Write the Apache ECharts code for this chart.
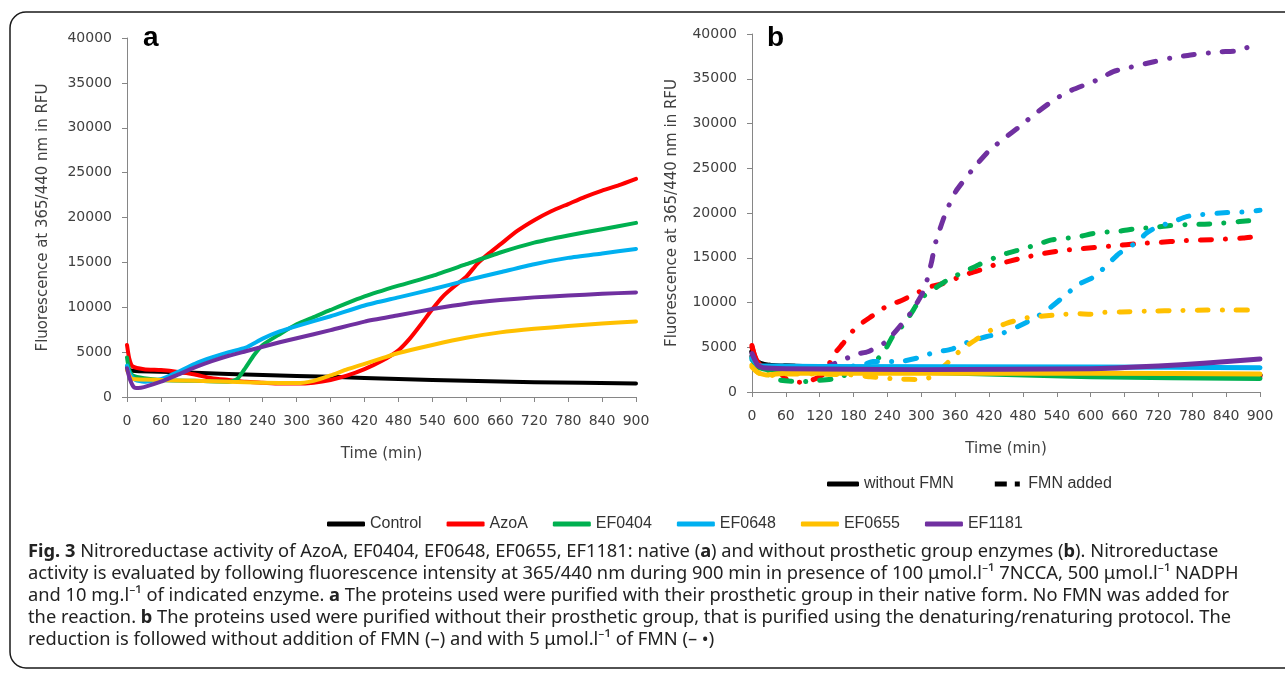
<!DOCTYPE html>
<html><head><meta charset="utf-8">
<script src="https://cdn.jsdelivr.net/npm/echarts@6/dist/echarts.min.js"></script>
<style>html,body{margin:0;padding:0;background:#fff}#c{width:1285px;height:678px}</style>
</head><body><div id="c"></div>
<script>
// ---------- DATA ----------
const seriesNames = ['Control', 'AzoA', 'EF0404', 'EF0648', 'EF0655', 'EF1181'];
const seriesColors = ['#000000', '#ff0000', '#00b050', '#00b0f0', '#ffc000', '#7030a0'];
const xMin = 0, xMax = 900, xInterval = 60;
const yMin = 0, yMax = 40000, yInterval = 5000;

// Panel a: native enzymes [time (min), RFU]
const aControl = [[0,3300],[5,3000],[15,2900],[60,2800],[120,2700],[240,2450],[360,2250],[480,2000],[600,1800],[720,1650],[900,1500]];
const aAzoA = [[0,5800],[4,4300],[10,3400],[30,3100],[60,3000],[90,2800],[120,2500],[150,2100],[180,1900],[210,1700],[240,1600],[270,1500],[300,1500],[330,1600],[360,1900],[390,2400],[420,3100],[450,4000],[480,5200],[500,6500],[520,8100],[540,9800],[560,11300],[580,12400],[600,13400],[620,14900],[640,16000],[660,17000],[690,18500],[720,19700],[750,20700],[780,21500],[810,22300],[840,23000],[870,23600],[900,24300]];
const aEF0404 = [[0,4400],[4,3000],[10,2400],[30,2100],[60,1900],[120,1800],[180,1700],[195,2000],[210,3300],[225,4700],[240,5800],[270,7000],[300,8100],[330,8900],[360,9700],[420,11200],[480,12400],[540,13500],[600,14800],[660,16100],[720,17200],[780,18000],[840,18700],[900,19400]];
const aEF0648 = [[0,3500],[5,2600],[15,1900],[30,1700],[60,2000],[90,2800],[120,3700],[150,4400],[180,5000],[210,5500],[240,6500],[270,7300],[300,7900],[360,9000],[420,10200],[480,11100],[540,12000],[600,13000],[660,13900],[720,14800],[780,15500],[840,16000],[900,16500]];
const aEF0655 = [[0,3000],[5,2300],[10,2000],[60,1900],[120,1800],[180,1700],[240,1600],[300,1550],[330,1800],[360,2400],[390,3100],[420,3700],[450,4300],[480,4900],[540,5800],[600,6600],[660,7200],[720,7600],[780,7900],[840,8200],[900,8400]];
const aEF1181 = [[0,3200],[5,2000],[12,1100],[20,1000],[30,1100],[60,1700],[90,2500],[120,3300],[150,4000],[180,4600],[210,5100],[240,5600],[270,6100],[300,6550],[360,7450],[420,8400],[480,9100],[540,9800],[600,10400],[660,10800],[720,11100],[780,11300],[840,11500],[900,11650]];

// Panel b: without prosthetic group, without FMN (solid)
const bControl = [[0,4500],[5,3600],[15,3200],[30,3000],[60,2900],[120,2800],[300,2500],[600,2100],[900,1900]];
const bAzoA = [[0,5200],[5,4000],[15,3000],[30,2800],[120,2600],[300,2300],[600,1900],[900,1700]];
const bEF0404 = [[0,3800],[10,2800],[30,2500],[120,2400],[300,2200],[600,1700],[900,1500]];
const bEF0648 = [[0,3800],[10,3000],[30,2900],[120,2850],[600,2800],[900,2700]];
const bEF0655 = [[0,2800],[10,2200],[25,1900],[60,2100],[300,2100],[600,2100],[900,2000]];
const bEF1181 = [[0,4300],[10,3000],[20,2700],[60,2600],[300,2500],[600,2600],[720,2900],[800,3200],[900,3700]];

// Panel b: FMN added (dash-dot)
const fControl = [[0,4500],[5,3600],[15,3200],[30,3000],[60,2900],[120,2800],[300,2500],[600,2100],[900,1900]];
const fAzoA = [[0,5000],[8,3500],[20,2800],[45,2400],[60,1500],[70,1150],[90,1100],[105,1300],[120,1700],[130,2200],[143,4000],[161,5400],[184,7200],[213,8500],[239,9600],[264,10200],[293,11100],[318,11800],[343,12200],[369,12900],[387,13300],[408,13700],[430,14200],[455,14600],[481,15000],[510,15400],[549,15800],[580,16000],[636,16300],[690,16600],[719,16700],[763,16900],[828,17050],[870,17200],[900,17400]];
const fEF0404 = [[0,4000],[10,2800],[30,1900],[44,1400],[70,1200],[90,1150],[108,1250],[143,1450],[180,2200],[205,2800],[232,4300],[249,6200],[271,7700],[287,9300],[300,10500],[329,11800],[351,12700],[372,13300],[401,14200],[430,15000],[452,15500],[481,16000],[506,16500],[531,17000],[560,17200],[582,17400],[604,17700],[633,17900],[654,18000],[676,18200],[705,18350],[741,18600],[770,18700],[802,18750],[828,18850],[864,19050],[900,19250]];
const fEF0648 = [[0,3600],[10,3000],[30,2900],[120,2800],[180,2900],[200,3100],[214,3400],[260,3400],[293,3800],[322,4400],[354,4800],[380,5500],[416,6200],[445,6600],[474,7400],[502,8300],[528,9400],[553,10700],[578,12000],[607,12900],[629,14200],[651,15500],[683,16800],[698,17700],[719,18500],[741,18900],[770,19600],[792,19800],[842,20050],[868,20100],[900,20300]];
const fEF0655 = [[0,3000],[10,2200],[25,1800],[60,2000],[120,2000],[180,1900],[210,1700],[257,1450],[300,1400],[322,1800],[347,3300],[372,4800],[398,5900],[426,7000],[452,7700],[488,8300],[517,8500],[546,8650],[575,8750],[600,8700],[625,8900],[654,8950],[716,9050],[745,9100],[806,9150],[835,9150],[900,9150]];
const fEF1181 = [[0,4000],[10,3000],[20,2700],[60,2600],[120,2600],[147,3200],[186,4250],[205,4500],[237,5600],[264,7500],[282,8900],[300,10800],[307,11800],[318,14500],[325,16650],[343,20000],[361,22400],[390,24800],[419,26900],[448,28400],[474,29650],[502,31100],[531,32450],[560,33550],[611,34850],[640,35800],[665,36200],[712,36900],[741,37300],[777,37650],[828,38000],[857,38100],[878,38500],[900,38900]];

const panelA = [aControl, aAzoA, aEF0404, aEF0648, aEF0655, aEF1181];
const panelBsolid = [bControl, bAzoA, bEF0404, bEF0648, bEF0655, bEF1181];
const panelBfmn = [fControl, fAzoA, fEF0404, fEF0648, fEF0655, fEF1181];
const fmnLegend = ['without FMN', 'FMN added'];

const yTitle = 'Fluorescence at 365/440 nm in RFU';
const xTitle = 'Time (min)';
const captionLines = [
  '{b|Fig. 3} Nitroreductase activity of AzoA, EF0404, EF0648, EF0655, EF1181: native ({b|a}) and without prosthetic group enzymes ({b|b}). Nitroreductase',
  'activity is evaluated by following fluorescence intensity at 365/440 nm during 900 min in presence of 100 μmol.l⁻¹ 7NCCA, 500 μmol.l⁻¹ NADPH',
  'and 10 mg.l⁻¹ of indicated enzyme. {b|a} The proteins used were purified with their prosthetic group in their native form. No FMN was added for',
  'the reaction. {b|b} The proteins used were purified without their prosthetic group, that is purified using the denaturing/renaturing protocol. The',
  'reduction is followed without addition of FMN (–) and with 5 μmol.l⁻¹ of FMN (– •)'
];

// ---------- CHART ----------
const chart = echarts.init(document.getElementById('c'), null, {renderer: 'canvas'});
const axisGray = '#868686';
const labelColor = '#404040';
const tickFont = 'DejaVu Sans';
const dashDot = [11, 14, 0.1, 14];
const smoothAmt = 0.2;

function xAxisFor(gi) {
  return {
    type: 'value', gridIndex: gi, min: xMin, max: xMax, interval: xInterval,
    name: xTitle, nameLocation: 'middle', nameGap: 50,
    nameTextStyle: {fontFamily: tickFont, fontSize: 15, color: labelColor},
    axisLine: {lineStyle: {color: axisGray, width: 1}},
    axisTick: {show: true, length: 5, lineStyle: {color: axisGray}},
    axisLabel: {fontFamily: tickFont, fontSize: 14, color: labelColor, margin: 17},
    splitLine: {show: false}
  };
}
function yAxisFor(gi, gap) {
  return {
    type: 'value', gridIndex: gi, min: yMin, max: yMax, interval: yInterval,
    name: yTitle, nameLocation: 'middle', nameGap: gap, nameRotate: 90,
    nameTextStyle: {fontFamily: tickFont, fontSize: 15, color: labelColor},
    axisLine: {show: true, lineStyle: {color: axisGray, width: 1}},
    axisTick: {show: true, length: 5, lineStyle: {color: axisGray}},
    axisLabel: {fontFamily: tickFont, fontSize: 14, color: labelColor, margin: 15,
                formatter: v => String(v)},
    splitLine: {show: false}
  };
}

const series = [];
panelA.forEach((d, i) => {
  series.push({
    type: 'line', name: seriesNames[i], xAxisIndex: 0, yAxisIndex: 0, data: d,
    symbol: 'none', showSymbol: false, smooth: smoothAmt,
    lineStyle: {color: seriesColors[i], width: 4, cap: 'round', join: 'round'},
    itemStyle: {color: seriesColors[i]}, silent: true
  });
});
panelBfmn.forEach((d, i) => {
  series.push({
    type: 'line', name: seriesNames[i], xAxisIndex: 1, yAxisIndex: 1, data: d,
    symbol: 'none', showSymbol: false, smooth: smoothAmt,
    lineStyle: {color: seriesColors[i], width: 5, type: dashDot, cap: 'round', join: 'round'},
    itemStyle: {color: seriesColors[i]}, silent: true
  });
});
panelBsolid.forEach((d, i) => {
  series.push({
    type: 'line', name: seriesNames[i], xAxisIndex: 1, yAxisIndex: 1, data: d,
    symbol: 'none', showSymbol: false, smooth: smoothAmt,
    lineStyle: {color: seriesColors[i], width: 5, cap: 'round', join: 'round'},
    itemStyle: {color: seriesColors[i]}, silent: true
  });
});
series.push({type: 'line', name: fmnLegend[0], xAxisIndex: 1, yAxisIndex: 1, data: [], symbol: 'none',
  lineStyle: {color: '#000', width: 5}, itemStyle: {color: '#000'}});
series.push({type: 'line', name: fmnLegend[1], xAxisIndex: 1, yAxisIndex: 1, data: [], symbol: 'none',
  lineStyle: {color: '#000', width: 5, type: dashDot}, itemStyle: {color: '#000'}});

const legendText = {fontFamily: 'Liberation Sans', fontSize: 16, color: '#333'};

const graphics = [
  {type: 'rect', shape: {x: 10, y: 12, width: 1300, height: 656, r: 16},
   style: {fill: 'none', stroke: '#1a1a1a', lineWidth: 1.5}, silent: true},
  {type: 'text', left: 143, top: 24, style: {text: 'a', font: 'bold 28px "Liberation Sans"', fill: '#000'}},
  {type: 'text', left: 767, top: 24, style: {text: 'b', font: 'bold 28px "Liberation Sans"', fill: '#000'}}
];
captionLines.forEach((t, i) => {
  graphics.push({
    type: 'text', left: 28, top: 543 + i * 22,
    style: {
      text: t, fontFamily: 'Noto Sans', fontSize: 18.3, fill: '#222',
      rich: {b: {fontFamily: 'Noto Sans', fontSize: 18.3, fontWeight: 'bold', fill: '#222'}}
    }
  });
});

chart.setOption({
  animation: false,
  backgroundColor: '#fff',
  grid: [
    {left: 127, top: 38, width: 509, height: 359, containLabel: false},
    {left: 752, top: 34, width: 508, height: 358, containLabel: false}
  ],
  xAxis: [xAxisFor(0), xAxisFor(1)],
  yAxis: [yAxisFor(0, 76), yAxisFor(1, 72)],
  legend: [
    {data: seriesNames, left: 322, top: 511, itemWidth: 38, itemHeight: 5, itemGap: 25,
     icon: 'roundRect', textStyle: legendText, selectedMode: false},
    {data: [
       {name: fmnLegend[0], icon: 'roundRect'},
       {name: fmnLegend[1], icon: 'path://M0,0 L12,0 L12,5 L0,5 Z M20,0 L25,0 L25,5 L20,5 Z'}
     ], left: 822, top: 471, itemWidth: 32, itemHeight: 5, itemGap: 41,
     textStyle: legendText, selectedMode: false}
  ],
  series: series,
  graphic: graphics
});
</script>
</body></html>
